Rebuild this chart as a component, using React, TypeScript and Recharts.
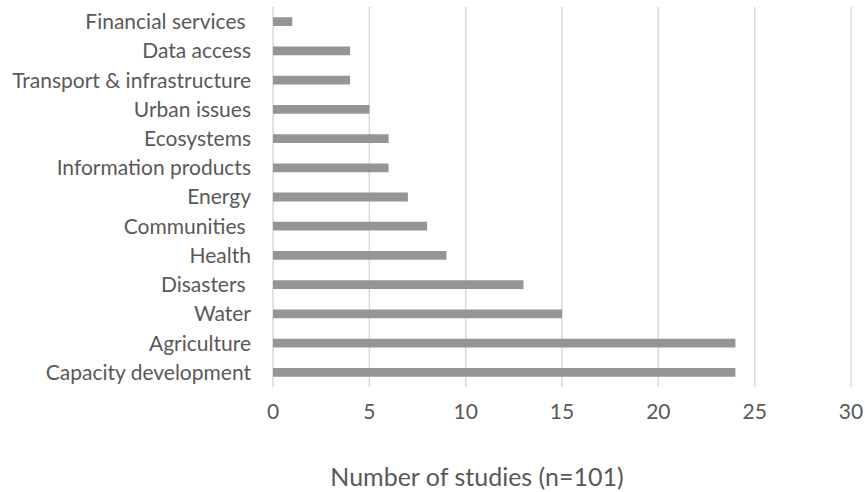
import { BarChart, Bar, XAxis, YAxis, CartesianGrid, Label } from "recharts";

const categories = [
  "Financial services\u00a0",
  "Data access",
  "Transport & infrastructure",
  "Urban issues",
  "Ecosystems",
  "Information products",
  "Energy",
  "Communities\u00a0",
  "Health",
  "Disasters\u00a0",
  "Water",
  "Agriculture",
  "Capacity development",
];

const studies = [1, 4, 4, 5, 6, 6, 7, 8, 9, 13, 15, 24, 24];

const xTicks = [0, 5, 10, 15, 20, 25, 30];

const data = categories.map((name, i) => ({ name, studies: studies[i] }));

const TEXT = "#595959";
const FONT = "Lato, 'Open Sans', sans-serif";

function App() {
  return (
    <div style={{ position: "absolute", left: 0, top: 0, background: "#fff" }}>
      <BarChart
        width={865}
        height={492}
        data={data}
        layout="vertical"
        margin={{ top: 7, right: 14, bottom: 0, left: 0 }}
        barCategoryGap="65%"
        style={{ fontFamily: FONT }}
      >
        <CartesianGrid horizontal={false} stroke="#d9d9d9" strokeWidth={1.5} />
        <XAxis
          type="number"
          domain={[0, 30]}
          ticks={xTicks}
          axisLine={false}
          tickLine={false}
          tickMargin={11}
          height={105}
          tick={{ fill: TEXT, fontSize: 21 }}
        >
          <Label
            value="Number of studies (n=101)"
            position="insideBottom"
            offset={6}
            dx={-85}
            style={{ fill: TEXT, fontSize: 25, fontFamily: FONT }}
          />
        </XAxis>
        <YAxis
          type="category"
          dataKey="name"
          width={273}
          axisLine={false}
          tickLine={false}
          tickMargin={16}
          interval={0}
          tick={{ fill: TEXT, fontSize: 21 }}
        />
        <Bar dataKey="studies" fill="#939598" isAnimationActive={false} />
      </BarChart>
    </div>
  );
}

export default App;
